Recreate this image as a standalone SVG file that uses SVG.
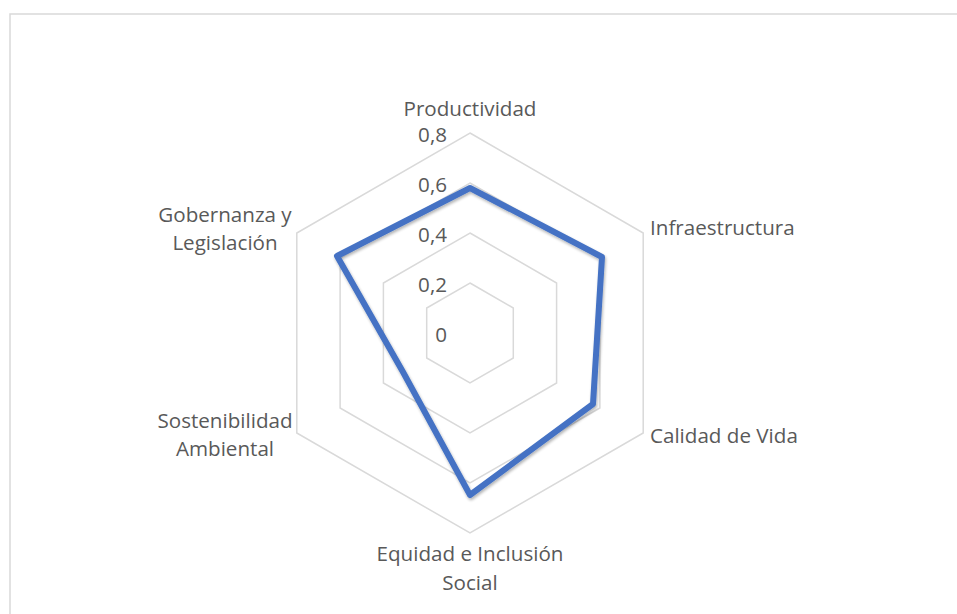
<svg xmlns="http://www.w3.org/2000/svg" width="957" height="614" viewBox="0 0 957 614">
<defs>
<style>
.grid{fill:none;stroke:#d9d9d9;stroke-width:1.5}
.lbl{font-family:"Open Sans","Liberation Sans",sans-serif;font-size:20.6px;fill:#595959}
.tick{font-family:"Open Sans","Liberation Sans",sans-serif;font-size:20.6px;fill:#595959;text-anchor:end}
.mid{text-anchor:middle}
.data{fill:none;stroke:#4472c4;stroke-width:6;stroke-linejoin:round}
</style>
<filter id="sh" x="-10%" y="-10%" width="120%" height="120%">
<feGaussianBlur in="SourceAlpha" stdDeviation="1.5"/>
<feOffset dx="1" dy="2" result="b"/>
<feComponentTransfer><feFuncA type="linear" slope="0.3"/></feComponentTransfer>
<feMerge><feMergeNode/><feMergeNode in="SourceGraphic"/></feMerge>
</filter>
</defs>
<rect x="0" y="0" width="957" height="614" fill="#ffffff"/>
<rect x="10" y="14" width="1000" height="700" fill="#ffffff" stroke="#d9d9d9" stroke-width="1.5"/>
<g id="grid">
<polygon class="grid" points="470,283 513.3,308 513.3,358 470,383 426.7,358 426.7,308"/>
<polygon class="grid" points="470,233 556.6,283 556.6,383 470,433 383.4,383 383.4,283"/>
<polygon class="grid" points="470,183 599.9,258 599.9,408 470,483 340.1,408 340.1,258"/>
<polygon class="grid" points="470,133 643.2,233 643.2,433 470,533 296.8,433 296.8,233"/>
</g>
<g id="ticks">
<text class="tick" x="447" y="142">0,8</text>
<text class="tick" x="447" y="192">0,6</text>
<text class="tick" x="447" y="242">0,4</text>
<text class="tick" x="447" y="292">0,2</text>
<text class="tick" x="447" y="342">0</text>
</g>
<g id="connectors">
<polygon class="data" filter="url(#sh)" points="470,188 602,257 593,404 470,495 403,372 337,256"/>
</g>
<g id="node-productividad"><text class="lbl mid" x="470" y="116">Productividad</text></g>
<g id="node-infraestructura"><text class="lbl" x="650" y="235">Infraestructura</text></g>
<g id="node-calidad"><text class="lbl" x="650" y="443">Calidad de Vida</text></g>
<g id="node-equidad"><text class="lbl mid" x="470" y="561">Equidad e Inclusión</text><text class="lbl mid" x="470" y="590">Social</text></g>
<g id="node-sostenibilidad"><text class="lbl mid" x="225" y="428">Sostenibilidad</text><text class="lbl mid" x="225" y="456">Ambiental</text></g>
<g id="node-gobernanza"><text class="lbl mid" x="225" y="222">Gobernanza y</text><text class="lbl mid" x="225" y="250">Legislación</text></g>
</svg>
